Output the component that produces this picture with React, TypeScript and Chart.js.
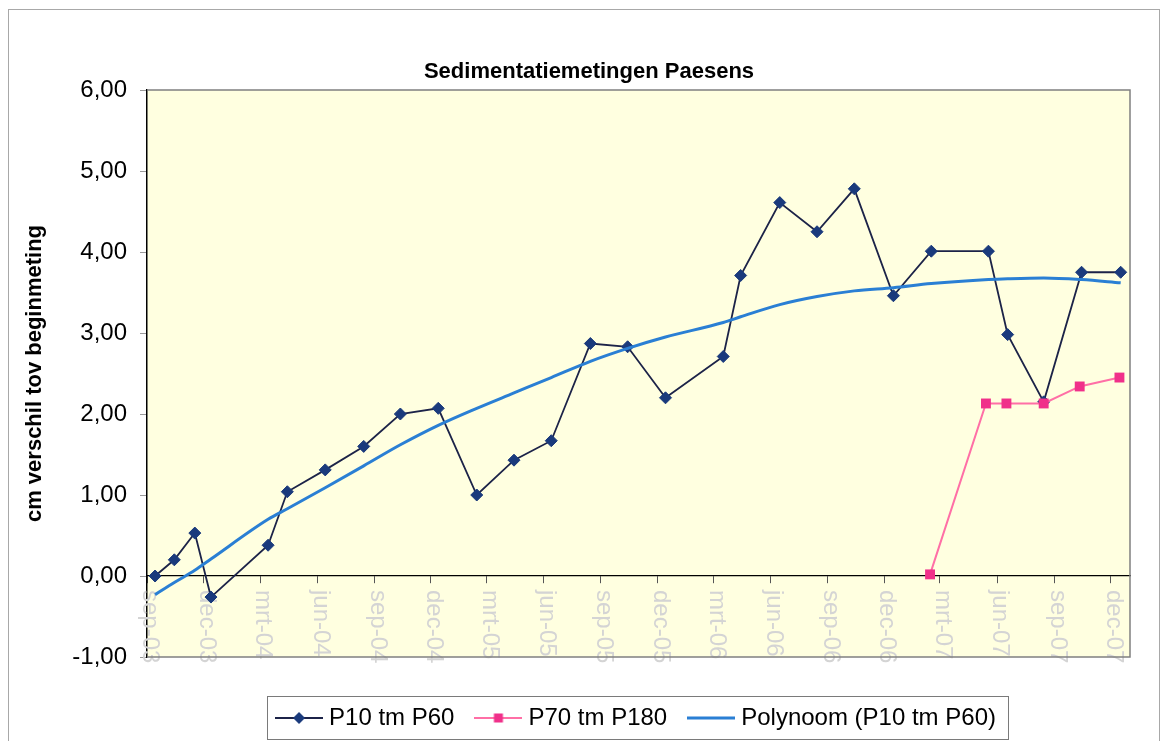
import React, { useEffect, useRef } from 'react';
import { Chart, registerables } from 'chart.js';

Chart.register(...registerables);

const FONT = '"Liberation Sans", Arial, Helvetica, sans-serif';

const chartTitle = 'Sedimentatiemetingen Paesens';
const yAxisTitle = 'cm verschil tov beginmeting';

const xMinDate = '2003-09-01';
const xMaxDate = '2008-01-01';
const xTickDates = [
  '2003-09-01', '2003-12-01', '2004-03-01', '2004-06-01', '2004-09-01', '2004-12-01',
  '2005-03-01', '2005-06-01', '2005-09-01', '2005-12-01', '2006-03-01', '2006-06-01',
  '2006-09-01', '2006-12-01', '2007-03-01', '2007-06-01', '2007-09-01', '2007-12-01',
];
const xTickLabels = [
  'sep-03', 'dec-03', 'mrt-04', 'jun-04', 'sep-04', 'dec-04',
  'mrt-05', 'jun-05', 'sep-05', 'dec-05', 'mrt-06', 'jun-06',
  'sep-06', 'dec-06', 'mrt-07', 'jun-07', 'sep-07', 'dec-07',
];

const yMin = -1;
const yMax = 6;
const yStep = 1;

const p10Label = 'P10 tm P60';
const p10Dates = [
  '2003-09-14', '2003-10-15', '2003-11-17', '2003-12-13', '2004-03-14', '2004-04-14',
  '2004-06-14', '2004-08-15', '2004-10-13', '2004-12-13', '2005-02-13', '2005-04-14',
  '2005-06-13', '2005-08-15', '2005-10-14', '2005-12-14', '2006-03-17', '2006-04-14',
  '2006-06-16', '2006-08-15', '2006-10-14', '2006-12-16', '2007-02-15', '2007-05-18',
  '2007-06-18', '2007-08-15', '2007-10-15', '2007-12-17',
];
const p10Values = [
  0.0, 0.2, 0.53, -0.26, 0.38, 1.04,
  1.31, 1.6, 2.0, 2.07, 1.0, 1.43,
  1.67, 2.87, 2.83, 2.2, 2.71, 3.71,
  4.61, 4.25, 4.78, 3.46, 4.01, 4.01,
  2.98, 2.15, 3.75, 3.75,
];

const p70Label = 'P70 tm P180';
const p70Dates = ['2007-02-13', '2007-05-14', '2007-06-16', '2007-08-15', '2007-10-12', '2007-12-15'];
const p70Values = [0.02, 2.13, 2.13, 2.13, 2.34, 2.45];

const trendLabel = 'Polynoom (P10 tm P60)';
const trendValues = [
  -0.23, -0.08, 0.07, 0.21, 0.7, 0.83,
  1.09, 1.36, 1.62, 1.86, 2.07, 2.26,
  2.45, 2.65, 2.81, 2.95, 3.13, 3.2,
  3.35, 3.45, 3.52, 3.56, 3.61, 3.66,
  3.67, 3.68, 3.66, 3.62,
];

const C_P10_LINE = '#1c2348';
const C_P10_MARK = '#1a3a7c';
const C_P70_LINE = '#ff6fa6';
const C_P70_MARK = '#f0308a';
const C_TREND = '#2a7fd4';
const C_PLOT_BG = '#ffffe0';

const dayNum = (s: string) => {
  const [y, m, d] = s.split('-').map(Number);
  return Date.UTC(y, m - 1, d) / 86400000;
};

function legendSample(w: number, color: string, lw: number, marker: 'diamond' | 'square' | null, mColor: string) {
  const h = 16;
  const c = document.createElement('canvas');
  c.width = w;
  c.height = h;
  const ctx = c.getContext('2d') as CanvasRenderingContext2D;
  ctx.strokeStyle = color;
  ctx.lineWidth = lw;
  ctx.beginPath();
  ctx.moveTo(0, h / 2);
  ctx.lineTo(w, h / 2);
  ctx.stroke();
  ctx.fillStyle = mColor;
  if (marker === 'diamond') {
    const r = 6;
    ctx.beginPath();
    ctx.moveTo(w / 2, h / 2 - r);
    ctx.lineTo(w / 2 + r, h / 2);
    ctx.lineTo(w / 2, h / 2 + r);
    ctx.lineTo(w / 2 - r, h / 2);
    ctx.closePath();
    ctx.fill();
  } else if (marker === 'square') {
    const s = 9;
    ctx.fillRect(w / 2 - s / 2, h / 2 - s / 2, s, s);
  }
  return c;
}

const chromePlugin = {
  id: 'chrome',
  beforeDraw(chart: any) {
    const { ctx, chartArea: a, width, height } = chart;
    ctx.save();
    ctx.fillStyle = '#ffffff';
    ctx.fillRect(0, 0, width, height);
    ctx.strokeStyle = '#a8a8a8';
    ctx.lineWidth = 1;
    ctx.strokeRect(8.5, 9.5, width - 13, height - 5);
    ctx.fillStyle = C_PLOT_BG;
    ctx.fillRect(a.left, a.top, a.right - a.left, a.bottom - a.top);
    ctx.restore();
  },
  beforeDatasetsDraw(chart: any) {
    const { ctx, scales } = chart;
    const xs = scales.x;
    const y0 = scales.y.getPixelForValue(0);
    ctx.save();
    ctx.fillStyle = '#d4d4d4';
    ctx.font = `24px ${FONT}`;
    ctx.textAlign = 'left';
    ctx.textBaseline = 'middle';
    xTickDates.forEach((d, i) => {
      const px = xs.getPixelForValue(dayNum(d));
      ctx.save();
      ctx.translate(px + 3, y0 + 14);
      ctx.rotate(Math.PI / 2);
      ctx.fillText(xTickLabels[i], 0, 0);
      ctx.restore();
    });
    ctx.restore();
  },
  afterDraw(chart: any) {
    const { ctx, chartArea: a, legend } = chart;
    ctx.save();
    ctx.strokeStyle = '#808080';
    ctx.lineWidth = 1.5;
    ctx.beginPath();
    ctx.moveTo(a.left, a.top);
    ctx.lineTo(a.right, a.top);
    ctx.lineTo(a.right, a.bottom);
    ctx.lineTo(a.left, a.bottom);
    ctx.stroke();
    if (legend && legend.legendHitBoxes && legend.legendHitBoxes.length) {
      const hb = legend.legendHitBoxes;
      const first = hb[0];
      const last = hb[hb.length - 1];
      const cy = first.top + first.height / 2;
      const l = first.left - 14;
      const r = last.left + last.width + 12;
      ctx.strokeStyle = '#7a7a7a';
      ctx.lineWidth = 1;
      ctx.strokeRect(Math.round(l) + 0.5, Math.round(cy - 22) + 0.5, Math.round(r - l), 43);
    }
    ctx.restore();
  },
};

export default function App() {
  const ref = useRef<HTMLCanvasElement | null>(null);

  useEffect(() => {
    if (!ref.current) return;
    const samples = [
      legendSample(48, C_P10_LINE, 2, 'diamond', C_P10_MARK),
      legendSample(48, C_P70_LINE, 2, 'square', C_P70_MARK),
      legendSample(48, C_TREND, 3, null, C_TREND),
    ];
    const legendTexts = [p10Label, p70Label, trendLabel];

    const chart = new Chart(ref.current, {
      type: 'line',
      data: {
        datasets: [
          {
            label: p10Label,
            data: p10Dates.map((d, i) => ({ x: dayNum(d), y: p10Values[i] })),
            borderColor: C_P10_LINE,
            borderWidth: 1.8,
            pointStyle: 'rectRot',
            pointRadius: 6,
            pointBackgroundColor: C_P10_MARK,
            pointBorderColor: C_P10_MARK,
            pointBorderWidth: 1,
            tension: 0,
            order: 2,
          },
          {
            label: p70Label,
            data: p70Dates.map((d, i) => ({ x: dayNum(d), y: p70Values[i] })),
            borderColor: C_P70_LINE,
            borderWidth: 2,
            pointStyle: 'rect',
            pointRadius: 7,
            pointBackgroundColor: C_P70_MARK,
            pointBorderColor: C_P70_MARK,
            pointBorderWidth: 0,
            tension: 0,
            order: 1,
          },
          {
            label: trendLabel,
            data: p10Dates.map((d, i) => ({ x: dayNum(d), y: trendValues[i] })),
            borderColor: C_TREND,
            borderWidth: 3,
            pointRadius: 0,
            tension: 0.4,
            cubicInterpolationMode: 'monotone',
            order: 0,
          },
        ],
      },
      options: {
        animation: false,
        responsive: false,
        maintainAspectRatio: false,
        devicePixelRatio: 1,
        layout: { padding: { left: 14, right: 0, top: 0, bottom: 1 } },
        plugins: {
          title: {
            display: true,
            text: chartTitle,
            color: '#000',
            font: { family: FONT, size: 22, weight: 'bold' },
            padding: { top: 58.8, bottom: 4.8 },
          },
          legend: {
            display: true,
            position: 'bottom',
            fullSize: false,
            align: 'center',
            title: { display: true, text: '', font: { size: 1 }, padding: { top: 21.8, bottom: 0 } },
            labels: {
              usePointStyle: true,
              pointStyleWidth: 36,
              padding: 26,
              color: '#000',
              font: { family: FONT, size: 24 },
              generateLabels: () =>
                legendTexts.map((t, i) => ({
                  text: t,
                  pointStyle: samples[i] as any,
                  fillStyle: 'transparent',
                  strokeStyle: 'transparent',
                  lineWidth: 0,
                  hidden: false,
                  datasetIndex: i,
                  fontColor: '#000',
                })),
            },
          },
          tooltip: { enabled: false },
        },
        scales: {
          x: {
            type: 'linear',
            position: { y: 0 } as any,
            min: dayNum(xMinDate),
            max: dayNum(xMaxDate),
            afterBuildTicks: (scale: any) => {
              scale.ticks = xTickDates.map((d) => ({ value: dayNum(d) }));
            },
            ticks: { display: false },
            grid: {
              display: true,
              drawOnChartArea: false,
              drawTicks: true,
              tickLength: 7,
              color: '#555555',
              lineWidth: 1,
            },
            border: { display: true, color: '#000000', width: 1.2 },
          },
          y: {
            type: 'linear',
            position: 'left',
            min: yMin,
            max: yMax,
            afterFit: (scale: any) => {
              scale.width = 133;
            },
            ticks: {
              stepSize: yStep,
              color: '#000',
              padding: 13,
              font: { family: FONT, size: 24 },
              callback: (v: any) => Number(v).toFixed(2).replace('.', ','),
            },
            grid: {
              display: true,
              drawOnChartArea: false,
              drawTicks: true,
              tickLength: 7,
              color: '#9a9a9a',
            },
            border: { display: true, color: '#000000', width: 1.5 },
            title: {
              display: true,
              text: yAxisTitle,
              color: '#000',
              font: { family: FONT, size: 22, weight: 'bold' },
              padding: { top: 8, bottom: 0 },
            },
          },
          yRight: {
            type: 'linear',
            position: 'right',
            display: true,
            afterFit: (scale: any) => {
              scale.width = 34;
            },
            ticks: { display: false },
            grid: { display: false, drawTicks: false },
            border: { display: false },
          },
        },
      },
      plugins: [chromePlugin],
    } as any);

    return () => chart.destroy();
  }, []);

  return (
    <div style={{ position: 'fixed', left: 0, top: 0, width: 1164, height: 741, background: '#fff' }}>
      <canvas ref={ref} width={1164} height={741} style={{ display: 'block', width: 1164, height: 741 }} />
    </div>
  );
}
